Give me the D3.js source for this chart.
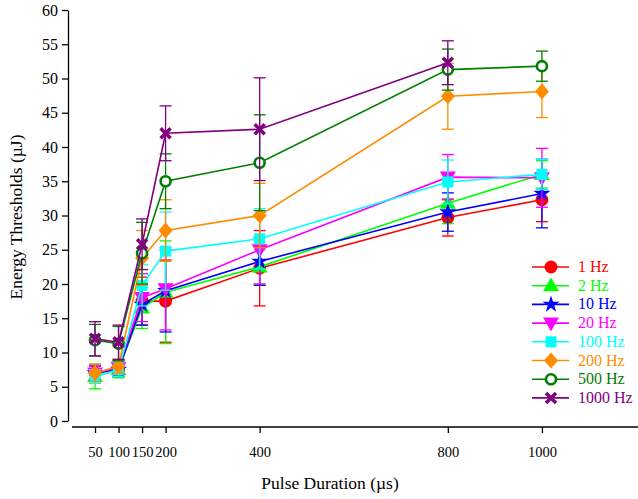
<!DOCTYPE html>
<html>
<head>
<meta charset="utf-8">
<script src="https://d3js.org/d3.v7.min.js"></script>
<style>
body { margin: 0; background: #fff; }
text { font-family: "Liberation Serif", "Times New Roman", serif; }
</style>
</head>
<body>
<svg width="638" height="499"></svg>
<script>
// pulse durations (us)
var durations = [50, 100, 150, 200, 400, 800, 1000];
var names = ["1 Hz", "2 Hz", "10 Hz", "20 Hz", "100 Hz", "200 Hz", "500 Hz", "1000 Hz"];
var colors = ["#ff0000", "#00ff00", "#0000ff", "#ff00ff", "#00ffff", "#ff8c00", "#008000", "#800080"];
var shapes = ["circle", "triangle", "star", "triangledown", "square", "diamond", "ring", "cross"];

// mean thresholds (uJ), one row per frequency
var means = [
  [7.0, 7.5, 17.5, 17.5, 22.3, 29.7, 32.3],
  [6.5, 7.5, 16.5, 18.8, 22.5, 31.8, 36.0],
  [7.0, 7.5, 17.0, 19.0, 23.3, 30.5, 33.2],
  [7.0, 7.8, 18.0, 19.3, 25.0, 35.6, 35.5],
  [6.5, 7.5, 19.8, 24.8, 26.6, 34.9, 36.0],
  [7.0, 8.0, 23.8, 27.8, 30.0, 47.4, 48.1],
  [11.8, 11.3, 24.5, 35.0, 37.7, 51.3, 51.8],
  [12.0, 11.5, 25.8, 42.0, 42.6, 52.3]
];
// standard deviations
var sds = [
  [1.2, 1.0, 3.5, 6.0, 5.5, 2.7, 3.2],
  [1.8, 1.2, 3.0, 7.5, 2.5, 3.0, 2.0],
  [1.0, 1.0, 3.0, 6.0, 3.5, 2.8, 5.0],
  [1.0, 1.0, 3.5, 6.0, 5.0, 3.3, 4.3],
  [1.0, 1.0, 3.0, 5.7, 4.4, 3.2, 2.2],
  [1.3, 1.0, 4.0, 4.5, 4.7, 4.8, 3.8],
  [2.3, 2.5, 4.5, 4.0, 7.0, 3.0, 2.2],
  [2.5, 2.5, 3.7, 4.0, 7.5, 3.2]
];
var xTicks = [50, 100, 150, 200, 400, 800, 1000];
var yTicks = d3.range(0, 61, 5);

var svg = d3.select("svg");
var x = d3.scaleLinear().domain([0, 1200]).range([71.5, 636]);
var y = d3.scaleLinear().domain([0, 60]).range([421, 10]);

// axes
var yAxis = svg.append("g")
    .attr("transform", "translate(68,0)")
    .call(d3.axisLeft(y).tickValues(yTicks).tickSize(6).tickSizeOuter(0));
yAxis.selectAll("text").style("font-size", "16px").attr("fill", "#000").attr("dx", "-1");
yAxis.selectAll("line, path").attr("stroke", "#000").attr("stroke-width", 1.3);

var xAxis = svg.append("g")
    .attr("transform", "translate(0,427)")
    .call(d3.axisBottom(x).tickValues(xTicks).tickFormat(d3.format("d")).tickSize(6).tickSizeOuter(0));
xAxis.select(".domain").attr("d", "M72,0H638");
xAxis.selectAll("text").style("font-size", "14.5px").attr("fill", "#000").attr("dy", "1.45em");
xAxis.selectAll("line, path").attr("stroke", "#000").attr("stroke-width", 1.3);

svg.append("text")
    .attr("transform", "translate(22,217) rotate(-90)")
    .attr("text-anchor", "middle")
    .style("font-size", "17.5px")
    .text("Energy Thresholds (\u00b5J)");

svg.append("text")
    .attr("x", 330).attr("y", 489)
    .attr("text-anchor", "middle")
    .style("font-size", "17.5px")
    .text("Pulse Duration (\u00b5s)");

function drawMarker(g, shape, color, cx, cy) {
  var s;
  if (shape === "circle") {
    g.append("circle").attr("cx", cx).attr("cy", cy).attr("r", 6.5).attr("fill", color);
  } else if (shape === "ring") {
    g.append("circle").attr("cx", cx).attr("cy", cy).attr("r", 5).attr("fill", "#fff")
      .attr("stroke", color).attr("stroke-width", 2.6);
  } else if (shape === "triangle") {
    s = d3.symbol().type(d3.symbolTriangle).size(110);
    g.append("path").attr("d", s()).attr("transform", "translate(" + cx + "," + (cy + 1) + ")").attr("fill", color);
  } else if (shape === "triangledown") {
    s = d3.symbol().type(d3.symbolTriangle).size(110);
    g.append("path").attr("d", s()).attr("transform", "translate(" + cx + "," + (cy - 1) + ") rotate(180)").attr("fill", color);
  } else if (shape === "star") {
    s = d3.symbol().type(d3.symbolStar).size(90);
    g.append("path").attr("d", s()).attr("transform", "translate(" + cx + "," + cy + ")").attr("fill", color);
  } else if (shape === "square") {
    g.append("rect").attr("x", cx - 5.5).attr("y", cy - 5.5).attr("width", 11).attr("height", 11).attr("fill", color);
  } else if (shape === "diamond") {
    g.append("path").attr("d", "M0,-8L7,0L0,8L-7,0Z").attr("transform", "translate(" + cx + "," + cy + ")").attr("fill", color);
  } else if (shape === "cross") {
    g.append("path").attr("d", "M-5,-5L5,5M-5,5L5,-5").attr("transform", "translate(" + cx + "," + cy + ")")
      .attr("stroke", color).attr("stroke-width", 3.5).attr("fill", "none");
  }
}

names.forEach(function(name, i) {
  var pts = means[i].map(function(m, j) { return {d: durations[j], m: m, sd: sds[i][j]}; });
  var g = svg.append("g");
  var line = d3.line().x(function(p) { return x(p.d); }).y(function(p) { return y(p.m); });
  g.append("path").datum(pts).attr("d", line).attr("fill", "none")
    .attr("stroke", colors[i]).attr("stroke-width", 1.6);
  pts.forEach(function(p) {
    var cx = x(p.d);
    g.append("line").attr("x1", cx).attr("x2", cx).attr("y1", y(p.m - p.sd)).attr("y2", y(p.m + p.sd))
      .attr("stroke", colors[i]).attr("stroke-width", 1.3);
    [p.m - p.sd, p.m + p.sd].forEach(function(v) {
      g.append("line").attr("x1", cx - 6).attr("x2", cx + 6).attr("y1", y(v)).attr("y2", y(v))
        .attr("stroke", colors[i]).attr("stroke-width", 1.3);
    });
  });
  pts.forEach(function(p) { drawMarker(g, shapes[i], colors[i], x(p.d), y(p.m)); });
});

// legend
var legend = svg.append("g");
names.forEach(function(name, i) {
  var ly = 267 + i * 18.7;
  legend.append("line").attr("x1", 532).attr("x2", 569).attr("y1", ly).attr("y2", ly)
    .attr("stroke", colors[i]).attr("stroke-width", 1.6);
  drawMarker(legend, shapes[i], colors[i], 551, ly);
  legend.append("text").attr("x", 578).attr("y", ly + 5)
    .style("font-size", "16px").attr("fill", colors[i]).text(name);
});
</script>
</body>
</html>
